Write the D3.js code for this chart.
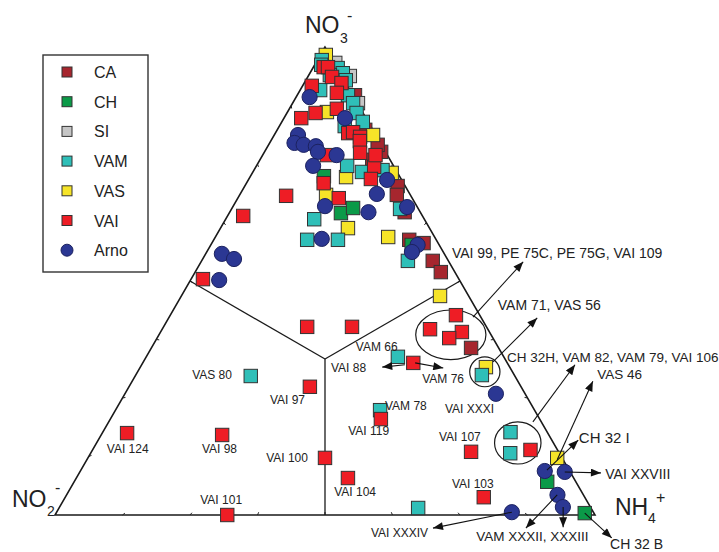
<!DOCTYPE html>
<html><head><meta charset="utf-8">
<script src="https://cdn.jsdelivr.net/npm/d3@7"></script>
<style>
body{margin:0;background:#fff}
text{font-family:Arial,"Liberation Sans",sans-serif;fill:#222}
</style>
</head><body>
<svg id="c" width="719" height="552"></svg>
<script>
// Ternary data: [NO3 %, NH4 %]  (NO2 % = 100 - NO3 - NH4)
const seriesNames = ["CA","CH","SI","VAM","VAS","VAI","Arno"];
const seriesColors = ["#a6262e","#0b9a48","#c6c6c6","#2fbfb8","#f6e428","#ee1d25","#2b3793"];
const drawOrder = ["CA","CH","SI","VAS","VAM","VAI","Arno"];

const CA = [[77.6,21.6],[79.1,20.2],[70.3,28.3],[68.4,29.1],[64.7,32.4],[58.8,36.2],[58.1,39.2],
  [54.3,42.8],[51.9,45.5],[35.7,59.2],[89.7,10.7],[82.3,16.3],[75.9,20.8]];
const CH = [[72.4,13.6],[64.5,20.7],[65.6,22.4],[57.7,37.2],[7.1,87.6],[0.4,97.9]];
const SI = [[96.6,3.6],[88.0,12.1],[93.8,7.7]];
const VAM = [[97.2,0.8],[96.2,1.2],[95.5,4.6],[94.4,6.1],[92.9,7.4],[90.8,3.7],[89.7,9.4],[88.0,11.2],
  [85.9,12.9],[84.0,15.0],[74.6,16.8],[73.7,23.8],[73.3,20.2],[65.4,31.2],[63.2,16.4],[58.8,17.3],
  [58.8,23.0],[54.3,38.2],[33.8,46.6],[29.7,21.4],[29.9,64.1],[22.4,49.0],[1.5,66.5],[17.7,75.5],
  [13.2,77.7],[94.0,3.9],[83.1,12.1]];
const VAS = [[98.3,1.0],[86.1,7.3],[81.2,18.3],[73.1,25.8],[72.2,17.8],[68.4,16.0],[61.3,23.6],
  [59.4,32.0],[46.8,47.9],[31.6,64.0],[12.2,86.9]];
const VAI = [[95.7,1.9],[95.7,2.7],[93.6,4.5],[92.3,6.9],[91.7,1.7],[90.2,7.1],[86.8,8.8],[85.9,5.3],
  [84.8,3.2],[81.6,13.5],[81.8,14.3],[80.8,16.1],[79.9,16.5],[77.4,17.8],[76.9,11.9],[74.4,21.9],
  [70.9,14.3],[71.8,22.6],[68.2,8.7],[67.7,18.7],[63.9,2.9],[50.4,2.2],[40.2,26.6],[40.2,34.9],
  [42.7,52.9],[39.7,49.6],[39.1,55.8],[37.8,54.1],[32.5,50.1],[27.4,33.5],[17.5,4.6],[17.1,22.4],
  [12.2,43.9],[0,31.9],[20.5,50.1],[13.5,70.3],[3.8,77.5],[7.9,50.3],[13.9,81.1],[76.9,20.9]];
const Arno = [[89.3,2.5],[84.8,11.3],[81.2,4.4],[79.5,4.6],[79.1,6.5],[78.8,8.9],[77.6,9.9],[76.9,13.7],
  [74.6,10.5],[71.6,25.7],[68.6,25.3],[66.0,17.0],[65.8,32.3],[64.7,25.7],[59.0,19.9],[57.7,38.3],
  [56.2,38.0],[55.8,3.0],[54.7,5.8],[50.2,5.3],[25.9,68.7],[0.6,84.3],[9.4,86.0],[9.2,89.8],
  [4.3,90.9],[1.7,93.2]];
const seriesData = {CA, CH, SI, VAM, VAS, VAI, Arno};

// Annotations in plot units (x: 0-100 along base, y: 0-100 height)
const labels = [
  ["VAI 124",9.6,13.2,12],["VAI 98",27.2,13.2,12],["VAI 100",39.1,11.3,12],["VAI 101",26.9,2.4,12],
  ["VAI 97",39.8,23.7,12],["VAS 80",25.4,29.1,12],["VAM 66",55.7,35.0,12],["VAI 88",51.1,30.6,12],
  ["VAM 76",68.0,28.2,12],["VAM 78",61.1,22.4,12],["VAI 119",54.3,17.1,12],["VAI XXXI",72.2,21.8,12],
  ["VAI 107",71.1,15.8,12],["VAI 103",73.5,5.8,12],["VAI 104",51.7,4.1,12],["VAI XXXIV",58.5,-4.7,12],
  ["VAM XXXII, XXXIII",78.0,-5.6,13.5],["CH 32 B",102.8,-7.2,14],["VAI XXVIII",101.9,7.7,14],
  ["CH 32 I",97.0,15.4,15],["VAS 46",100.4,29.1,13.5],["CH 32H, VAM 82, VAM 79, VAI 106",83.7,32.7,13.5],
  ["VAM 71, VAS 56",82.0,43.8,14],["VAI 99, PE 75C, PE 75G, VAI 109",73.5,54.9,14]
];
const arrows = [
  [77.4,42.3,86.7,54.1],[81.1,32.7,89.3,42.1],[88.5,19.9,96.3,32.1],[93.0,11.8,99.6,28.6],
  [91.1,9.6,96.9,16.0],[94.4,9.2,101.1,9.0],[93.0,4.3,87.2,-2.8],[94.1,1.7,94.1,-2.6],
  [98.1,0.4,103.1,-4.9],[84.6,0.6,70.0,-2.8],[64.8,32.1,60.6,31.6],[66.7,32.5,71.9,31.4]
];
const ellipses = [[73.3,38.5,6.5,5.3],[79.6,30.6,2.8,3.2],[85.7,15.4,4.3,4.5]];

const svg = d3.select("#c");
const x = d3.scaleLinear().domain([0,100]).range([55,595]);
const y = d3.scaleLinear().domain([0,100]).range([515,47]);
const tx = d => x(d[1] + d[0]/2);
const ty = d => y(d[0]);

svg.append("defs").append("marker").attr("id","ah")
  .attr("viewBox","0 0 10 8").attr("refX",10).attr("refY",4)
  .attr("markerWidth",12).attr("markerHeight",8).attr("markerUnits","userSpaceOnUse")
  .attr("orient","auto").append("path").attr("d","M0,0L10,4L0,8Z").attr("fill","#111");

// Triangle
const V = [[100,0],[0,0],[0,100]];
const line = d3.line().x(tx).y(ty);
svg.append("path").attr("d", line(V)+"Z").attr("fill","none").attr("stroke","#1a1a1a").attr("stroke-width",1.6);

// ticks
const cen = [33.333,33.333];
const edges = [[V[1],V[2]],[V[1],V[0]],[V[2],V[0]]];
edges.forEach(([p,q])=>{
  for(let k=1;k<8;k++){
    const t=k/8, d=[p[0]+(q[0]-p[0])*t, p[1]+(q[1]-p[1])*t];
    const X=tx(d),Y=ty(d), cx=tx(cen), cy=ty(cen);
    const L=Math.hypot(cx-X,cy-Y);
    svg.append("line").attr("x1",X).attr("y1",Y).attr("x2",X+(cx-X)/L*3).attr("y2",Y+(cy-Y)/L*3)
      .attr("stroke","#222").attr("stroke-width",1);
  }
});

// field divisions
[[50,0],[50,50],[0,50]].forEach(m=>{
  svg.append("line").attr("x1",tx(cen)).attr("y1",ty(cen)).attr("x2",tx(m)).attr("y2",ty(m))
    .attr("stroke","#1a1a1a").attr("stroke-width",1.3);
});

// ellipses
ellipses.forEach(e=>{
  svg.append("ellipse").attr("cx",x(e[0])).attr("cy",y(e[1]))
    .attr("rx",x(e[2])-x(0)).attr("ry",y(0)-y(e[3]))
    .attr("fill","none").attr("stroke","#1a1a1a").attr("stroke-width",1.2);
});

// points
const col = n => seriesColors[seriesNames.indexOf(n)];
drawOrder.forEach(n=>{
  const g = svg.append("g");
  if(n==="Arno"){
    g.selectAll("circle").data(seriesData[n]).join("circle")
      .attr("cx",tx).attr("cy",ty).attr("r",7.6)
      .attr("fill",col(n)).attr("stroke","#1c2260").attr("stroke-width",1);
  } else {
    g.selectAll("rect").data(seriesData[n]).join("rect")
      .attr("x",d=>tx(d)-6.7).attr("y",d=>ty(d)-6.7).attr("width",13.4).attr("height",13.4)
      .attr("fill",col(n)).attr("stroke","#333").attr("stroke-width",1);
  }
});

// arrows
arrows.forEach(a=>{
  svg.append("line").attr("x1",x(a[0])).attr("y1",y(a[1])).attr("x2",x(a[2])).attr("y2",y(a[3]))
    .attr("stroke","#111").attr("stroke-width",1.1).attr("marker-end","url(#ah)");
});

// labels
labels.forEach(l=>{
  svg.append("text").attr("x",x(l[1])).attr("y",y(l[2])).attr("font-size",l[3]).text(l[0]);
});

// axis vertex labels
function vlabel(v, dx, dy, main, sub, sup){
  const X=tx(v), Y=ty(v);
  svg.append("text").attr("x",X+dx).attr("y",Y+dy).attr("font-size",23).text(main);
  svg.append("text").attr("x",X+dx+sub[0]).attr("y",Y+dy+sub[1]).attr("font-size",14).text(sub[2]);
  svg.append("text").attr("x",X+dx+sup[0]).attr("y",Y+dy+sup[1]).attr("font-size",16).text(sup[2]);
}
vlabel(V[0], -20, -14, "NO", [35,10,"3"], [42,-12,"-"]);
vlabel(V[1], -43, -8, "NO", [35,9,"2"], [43,-14,"-"]);
vlabel(V[2], 20, 0, "NH", [33,8,"4"], [41,-12,"+"]);

// legend
const lg = svg.append("g");
lg.append("rect").attr("x",43).attr("y",55).attr("width",105).attr("height",217)
  .attr("fill","#fff").attr("stroke","#333").attr("stroke-width",1.4);
seriesNames.forEach((n,i)=>{
  const cy = 72 + i*29.7;
  if(n==="Arno"){
    lg.append("circle").attr("cx",67).attr("cy",cy).attr("r",6).attr("fill",seriesColors[i]).attr("stroke","#1c2260");
  } else {
    lg.append("rect").attr("x",62).attr("y",cy-5).attr("width",10).attr("height",10)
      .attr("fill",seriesColors[i]).attr("stroke","#333").attr("stroke-width",1);
  }
  lg.append("text").attr("x",94).attr("y",cy+6).attr("font-size",16).text(n);
});
</script>
</body></html>
